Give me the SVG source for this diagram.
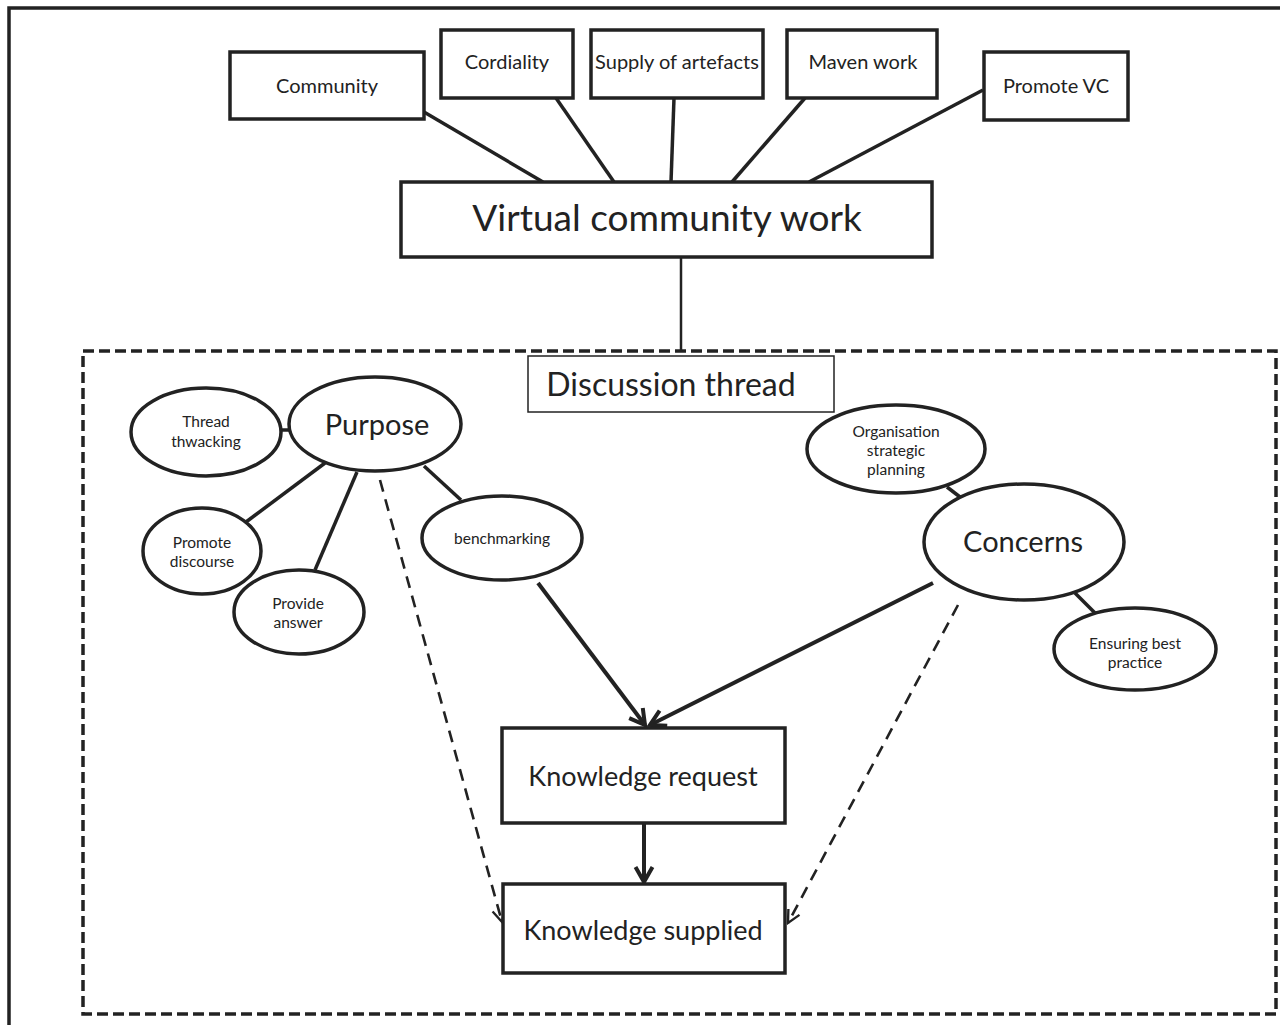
<svg xmlns="http://www.w3.org/2000/svg" width="1280" height="1025" viewBox="0 0 1280 1025">
  <defs>
    <style>
      .box { fill: #fff; stroke: #222; stroke-width: 3.5; }
      .thin { fill: #fff; stroke: #222; stroke-width: 1.5; }
      .ell { fill: #fff; stroke: #222; stroke-width: 3.5; }
      .link { stroke: #222; stroke-width: 3.5; fill: none; }
      .arrow { stroke: #222; stroke-width: 4; fill: none; }
      .dash { stroke: #222; stroke-width: 2.6; fill: none; stroke-dasharray: 12 8; }
      .frame { stroke: #222; stroke-width: 3.5; fill: none; }
      .group { stroke: #222; stroke-width: 3.5; fill: none; stroke-dasharray: 11 5; }
      text { font-family: Lato, "Liberation Sans", sans-serif; fill: #222; text-anchor: middle; }
      .s { font-size: 15.5px; }
      .m { font-size: 20px; }
      .l { font-size: 27px; }
      .xl { font-size: 29px; }
      .dt { font-size: 32px; }
      .xxl { font-size: 37px; }
    </style>
    <marker id="head" viewBox="0 0 22 22" refX="19" refY="11" markerWidth="22" markerHeight="22" markerUnits="userSpaceOnUse" orient="auto">
      <path d="M4 2.5 L19 11 L4 19.5" fill="none" stroke="#222" stroke-width="4"/>
    </marker>
    <marker id="headThin" viewBox="0 0 20 20" refX="18" refY="10" markerWidth="18" markerHeight="18" markerUnits="userSpaceOnUse" orient="auto">
      <path d="M4 3 L18 10 L4 17" fill="none" stroke="#222" stroke-width="2.6"/>
    </marker>
  </defs>

  <rect width="1280" height="1025" fill="#fff"/>

  <!-- outer frame, running past the right and bottom edges -->
  <path class="frame" d="M9 1040 L9 8 L1295 8"/>

  <!-- discussion thread boundary -->
  <rect class="group" x="83" y="351" width="1193" height="663"/>

  <g id="connectors">
    <line class="link" x1="424" y1="112" x2="543" y2="182"/>
    <line class="link" x1="556" y1="98" x2="614" y2="182"/>
    <line class="link" x1="674" y1="98" x2="671" y2="182"/>
    <line class="link" x1="805" y1="98" x2="732" y2="182"/>
    <line class="link" x1="983" y1="90" x2="809" y2="182"/>
    <line class="link" x1="681" y1="257" x2="681" y2="351" style="stroke-width:2.5"/>

    <line class="link" x1="281" y1="430" x2="290" y2="430"/>
    <line class="link" x1="325" y1="463" x2="246" y2="522"/>
    <line class="link" x1="357" y1="472" x2="315" y2="570"/>
    <line class="link" x1="424" y1="466" x2="461" y2="500"/>
    <line class="link" x1="947" y1="487" x2="960" y2="497"/>
    <line class="link" x1="1075" y1="593" x2="1095" y2="613"/>

    <line class="arrow" x1="538" y1="583" x2="645" y2="725" marker-end="url(#head)"/>
    <line class="arrow" x1="933" y1="583" x2="650" y2="725" marker-end="url(#head)"/>
    <line class="arrow" x1="644" y1="823" x2="644" y2="882" marker-end="url(#head)"/>

    <line class="dash" x1="380" y1="480" x2="502" y2="922" marker-end="url(#headThin)"/>
    <line class="dash" x1="958" y1="605" x2="788" y2="923" marker-end="url(#headThin)"/>
  </g>

  <g id="community">
    <rect class="box" x="230" y="52" width="194" height="67"/>
    <text class="m" x="327" y="93">Community</text>
  </g>
  <g id="cordiality">
    <rect class="box" x="441" y="30" width="132" height="68"/>
    <text class="m" x="507" y="69">Cordiality</text>
  </g>
  <g id="supply-of-artefacts">
    <rect class="box" x="591" y="30" width="172" height="68"/>
    <text class="m" x="677" y="69">Supply of artefacts</text>
  </g>
  <g id="maven-work">
    <rect class="box" x="787" y="30" width="150" height="68"/>
    <text class="m" x="863" y="69">Maven work</text>
  </g>
  <g id="promote-vc">
    <rect class="box" x="984" y="52" width="144" height="68"/>
    <text class="m" x="1056" y="93">Promote VC</text>
  </g>
  <g id="virtual-community-work">
    <rect class="box" x="401" y="182" width="531" height="75"/>
    <text class="xxl" x="667" y="231">Virtual community work</text>
  </g>

  <g id="discussion-thread">
    <rect class="thin" x="528" y="356" width="306" height="56"/>
    <text class="dt" x="671" y="396">Discussion thread</text>
  </g>

  <g id="thread-thwacking">
    <ellipse class="ell" cx="206" cy="432" rx="75" ry="44"/>
    <text class="s" x="206" y="427">Thread</text>
    <text class="s" x="206" y="447">thwacking</text>
  </g>
  <g id="purpose">
    <ellipse class="ell" cx="375" cy="424" rx="86" ry="47"/>
    <text class="xl" x="377" y="435">Purpose</text>
  </g>
  <g id="promote-discourse">
    <ellipse class="ell" cx="202" cy="551" rx="59" ry="43"/>
    <text class="s" x="202" y="548">Promote</text>
    <text class="s" x="202" y="567">discourse</text>
  </g>
  <g id="provide-answer">
    <ellipse class="ell" cx="299" cy="612" rx="65" ry="42"/>
    <text class="s" x="298" y="609">Provide</text>
    <text class="s" x="298" y="628">answer</text>
  </g>
  <g id="benchmarking">
    <ellipse class="ell" cx="502" cy="538" rx="80" ry="42"/>
    <text class="s" x="502" y="544">benchmarking</text>
  </g>

  <g id="organisation-strategic-planning">
    <ellipse class="ell" cx="896" cy="449" rx="89" ry="44"/>
    <text class="s" x="896" y="437">Organisation</text>
    <text class="s" x="896" y="456">strategic</text>
    <text class="s" x="896" y="475">planning</text>
  </g>
  <g id="concerns">
    <ellipse class="ell" cx="1024" cy="542" rx="100" ry="58"/>
    <text class="xl" x="1023" y="552">Concerns</text>
  </g>
  <g id="ensuring-best-practice">
    <ellipse class="ell" cx="1135" cy="649" rx="81" ry="41"/>
    <text class="s" x="1135" y="649">Ensuring best</text>
    <text class="s" x="1135" y="668">practice</text>
  </g>

  <g id="knowledge-request">
    <rect class="box" x="502" y="728" width="283" height="95"/>
    <text class="l" x="643" y="786">Knowledge request</text>
  </g>
  <g id="knowledge-supplied">
    <rect class="box" x="503" y="884" width="282" height="89"/>
    <text class="l" x="643" y="940">Knowledge supplied</text>
  </g>
</svg>
